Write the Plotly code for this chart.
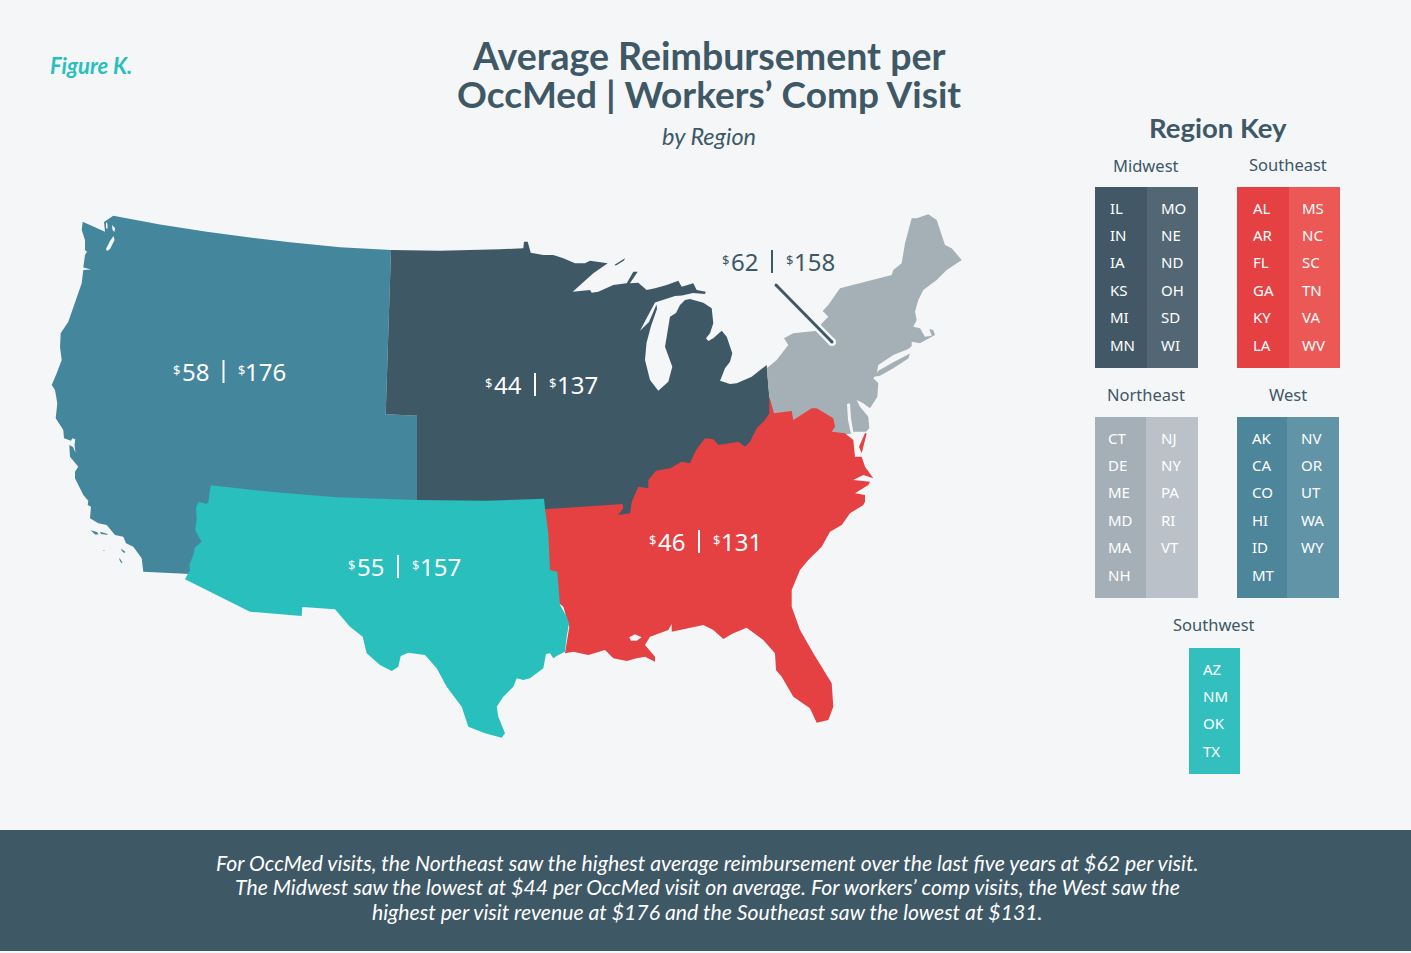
import plotly.graph_objects as go

# ---------- data ----------
regions = ["West", "Midwest", "Northeast", "Southwest", "Southeast"]
occmed = [58, 44, 62, 55, 46]
comp = [176, 137, 158, 157, 131]
label_x = [223.5, 535, 772, 398, 699]
label_y = [371, 384, 261, 566, 541]
label_colors = ["#FFFFFF", "#FFFFFF", "#3E5866", "#FFFFFF", "#FFFFFF"]

west_x = [82.7,93,105,104,109,113.3,160,206.7,250,290,340,391,385.7,418.3,417,417,215,190,143.3,141.7,133.3,126,123.3,115,106.7,98.3,90,91,87.7,88.3,83.3,75,75,78.3,70,69.3,73,75.5,74.5,75.3,72.3,71,64,63.3,55.7,57.3,55,51.7,56.7,61.7,60,60.7,68.3,73.3,81.7,83.3,91,83.3,85,87,85,85,81.7,82.7,None,90.7,97,98.5,95,90.7,None,100,108,107,101,100,None,103.3,105,103.5,103.3,None,121,125.5,124,122,121,None,119.3,122.7,121,119.5,119.3]
west_y = [221.7,226,231.7,222,219,215.7,224.5,231.7,237.5,242.3,247.3,250,414.3,415.7,500,520,520,574,571.7,558.3,546.7,543.3,536.7,535,525,523.3,518.3,506.7,505,500.7,495,478.3,471.7,466.7,456.7,445,447,452.7,445,439.3,438.3,440.7,438.3,430,418.3,403.3,390,385,373.3,360,346.7,333.3,321.7,306.7,283.3,270,269.5,267.5,255,251.7,250,240,230,221.7,None,530.3,532,534.5,534.5,530.3,None,531.7,534,534.7,534,531.7,None,550,551,551,550,None,548.5,552,553,551,548.5,None,557.7,562.7,562.7,560,557.7]

midwest_x = [391,440,500,523.3,524,527.7,530.7,543.3,553.3,563.3,575,585,590,607.7,593.3,572.7,590,591.7,598.3,613.3,626.7,633.3,637.7,630,638.3,646.7,655,666.7,678.3,681.7,693.3,696.7,705.7,705,693,682,675,663,655,648.3,640,649,654,656.5,657,651,646.5,645,650,658.3,668.3,672.3,665,668.3,670,676,680,685,690,703.3,711.7,713.3,710,706,708.3,713.3,721.7,726.7,732.3,730,725,721.7,720,730,736.7,751.7,766.7,769.3,774,800,640,540,417,417,418.3,385.7,391,None,614.3,625,624,616,614.3]
midwest_y = [250,250.7,249.3,248.3,241.7,241.7,252.7,255,255,258.3,263.3,263.3,260.7,263.3,273.3,291.7,290,292.7,291.7,285,283.3,271.7,271.7,283.3,282.7,290,288.3,285,280.7,286.7,283.3,290,291.7,294,293,295.5,296,299.5,302.5,315,330.7,322,309,304.5,309,326,343,360,380,390.7,381.7,366.7,346.7,328.3,316.7,313,305,300,299,302.7,308.3,323.3,333.3,338.3,341,338.3,330.7,336.7,353.3,361.7,368.3,376.7,380.7,384,383.3,376.7,365,396.7,413,450,530,530,520,415.7,415.7,414.3,250,None,265,258.3,260.5,265.5,265]

northeast_x = [766.7,776.7,788.3,784,793.3,810,815,823.3,828.3,822.7,828.3,840,891.7,893.3,901.7,905,911.7,916.7,928.3,936.7,945,951.7,961.7,946.7,936.7,923.3,918.3,915,916.7,913.3,920,925,931.7,929.3,933.3,935,926.7,920,911.7,911.7,908.3,893.3,878.3,876.7,873.3,878.3,877.3,870,863.3,856.7,860,868.3,869.3,866,853.3,851,850,847,848,851,845,835,775,769.3,766.7,None,874,878.3,893.3,908.3,910,908.3,893.3,880,874]
northeast_y = [368.3,360,345,338.3,333.3,331,331,321.7,316.7,311,305,288.3,275,270,263.3,243.3,218.3,218.3,214.3,220,245,248.3,260,270,280,290,300,311.7,320,326.7,328.3,336.7,335.7,329,330,335,340,343.3,341.7,346,349,355,365,373.3,378.3,383.3,396.7,408.3,403.3,400,406.7,416.7,428.3,431.7,431.7,418.3,403.3,404,420,434,434,440,420,396.7,368.3,None,376.7,370.7,362.3,354,353.5,358.5,368.3,375.7,376.7]

southeast_x = [544,622.7,623.3,618.3,630,631.7,638.3,648.3,648.3,656,670,681.7,690,696,705,713.3,718.3,730,738.3,745,750,756.7,765,769.3,769.3,774,791.7,793.3,811.7,816.7,833.3,835,831.7,845,853.3,855,861.7,865,873.3,863.3,853.3,870,868.3,855,865,865,863.3,850,841.7,830,821.7,808.3,800,791.7,791.7,800,813.3,831.7,833.3,828.3,816.7,810,793.3,781.7,776,775,763.3,746.7,733.3,723.3,713.3,703.3,686.7,671.7,671.7,668.3,650,645,655,655,645,636.7,626.7,613.3,605,598.3,588.3,573.3,565,569.3,563.3,555,540,544,None,865,866.7,861.7,859,865]
southeast_y = [509.3,504,508.3,515,513.3,501.7,486.7,488.3,480,470.7,468.3,461.7,463.3,450,438.3,439.3,445,443.3,441.7,446.7,441.7,428.3,420,413.3,396.7,413.3,411,420,408.3,408.3,418.3,426.7,431.7,433.3,440,456.7,456.7,466.7,478.3,475,480,481.7,485,493.3,495,501.7,505,513.3,525,531.7,546.7,560,570,590,606.7,630,653.3,683.3,706.7,720,722.7,708.3,696.7,676.7,670,653.3,640,627.7,633.3,639,630,625,628.3,631.7,624,630,636.7,645,656.7,661.7,656.7,658.3,661,658.3,650,651.7,655,651.7,653.3,626.7,606.7,600,520,509.3,None,433.3,433.3,453.3,446.7,433.3]

southwest_x = [210.7,270,336.7,417,486.7,544,545,548.3,550,557.3,560,566.7,569,566.7,565,558.3,553.3,550,546,545,543.3,530,523.3,516.7,513.3,503.3,496.7,498.3,505,501.7,485,468.3,461.7,446.7,436.7,425,408.3,400.7,398.3,391.7,380,366.7,362.7,350,335,302.3,301.7,250,185,190,189.3,193.3,195,201.7,195,196.7,196,198.3,203.3,205.7,208.3,210.7]
southwest_y = [485.3,491.7,497.3,500,500.7,498.7,508.3,533.3,570,571.7,605,616.7,623.3,636.7,651.7,655,658.3,653.3,654,660,668.3,678.3,680,678.3,686.7,696.7,706.7,716.7,733.3,737.7,733.3,726.7,706.7,686.7,668.3,655,652.7,656,666.7,671,665,653.3,636.7,626.7,609.3,607,616,611.7,579.3,570,565,555,547.3,541.7,530,520,507.3,502.3,502.7,504.3,502.3,485.3]

water_x = [629.3,635,641.7,636.7,631,629.3,None,106,107.5,107.5,106,106,None,112,115,114.5,112.5,112,None,106,110,113.5,114.5,110,107,106,None,77,86,85,77]
water_y = [637.3,634.3,637.3,640.7,640.7,637.3,None,222,224,229,228,222,None,225,228,232,230,225,None,249,241,236,240,249,251,249,None,440,442,442.5,440]

leader_x = [776, 832]
leader_y = [285, 342]

key_titles = ["Midwest", "Southeast", "Northeast", "West", "Southwest"]
key_states = [
    [["IL","IN","IA","KS","MI","MN"], ["MO","NE","ND","OH","SD","WI"]],
    [["AL","AR","FL","GA","KY","LA"], ["MS","NC","SC","TN","VA","WV"]],
    [["CT","DE","ME","MD","MA","NH"], ["NJ","NY","PA","RI","VT"]],
    [["AK","CA","CO","HI","ID","MT"], ["NV","OR","UT","WA","WY"]],
    [["AZ","NM","OK","TX"]],
]
key_title_x = [1146, 1288, 1146, 1288, 1214]
key_title_y = [165, 164, 394, 394, 624]
key_edges = [[1095,1147,1198],[1237,1289,1340],[1095,1146,1198],[1237,1287,1339],[1189,1240]]
key_top = [187, 187, 417, 417, 648]
key_bottom = [368, 368, 598, 598, 774]
key_text_x = [[1109,1160],[1252,1301],[1107,1160],[1251,1300],[1202]]
key_colors = [["#435866","#536674"],["#E54042","#EC5856"],["#A5AFB8","#BBC1C8"],["#4D869B","#6294A8"],["#33BFBE"]]

footer_lines = [
    "For OccMed visits, the Northeast saw the highest average reimbursement over the last five years at $62 per visit.",
    "The Midwest saw the lowest at $44 per OccMed visit on average. For workers’ comp visits, the West saw the",
    "highest per visit revenue at $176 and the Southeast saw the lowest at $131.",
]
footer_y = [863, 887, 912]

# ---------- styles ----------
BG = "#F4F6F8"
DARK = "#3E5866"
TEAL = "#28BFBD"
LATO = "Lato"
SANS = "Noto Sans"

fig = go.Figure()

def poly(xs, ys, color):
    fig.add_trace(go.Scatter(x=xs, y=ys, mode="lines", fill="toself", fillcolor=color,
                             line=dict(width=0, color=color), hoverinfo="skip"))

poly(west_x, west_y, "#44869C")
poly(midwest_x, midwest_y, DARK)
poly(northeast_x, northeast_y, "#A5B0B6")
poly(southeast_x, southeast_y, "#E54042")
poly(southwest_x, southwest_y, TEAL)
poly(water_x, water_y, BG)

# leader with a pale casing
fig.add_trace(go.Scatter(x=leader_x, y=leader_y, mode="lines+markers",
                         line=dict(color=BG, width=8),
                         marker=dict(size=8, color=BG), hoverinfo="skip"))
fig.add_trace(go.Scatter(x=leader_x, y=leader_y, mode="lines+markers",
                         line=dict(color=DARK, width=3),
                         marker=dict(size=3, color=DARK), hoverinfo="skip"))

ann = []
def text(x, y, s, size, color, family=SANS, anchor="center", weight=None, style=None):
    f = dict(size=size, color=color, family=family)
    if weight: f["weight"] = weight
    if style: f["style"] = style
    ann.append(dict(x=x, y=y, xref="x", yref="y", text=s, showarrow=False, xanchor=anchor,
                    yanchor="middle", font=f, borderpad=0, align="center"))

text(49, 65, "Figure K.", 22, TEAL, LATO, "left", 700, "italic")
text(708.5, 55.5, "Average Reimbursement per", 37.5, DARK, LATO, "center", 700)
text(708.5, 93.5, "OccMed | Workers’ Comp Visit", 37, DARK, LATO, "center", 700)
text(708.5, 136, "by Region", 23.5, DARK, LATO, "center", None, "italic")
text(1218, 127, "Region Key", 27.5, DARK, LATO, "center", 700)

shapes = [dict(type="rect", x0=0, x1=1411, y0=830, y1=951, xref="x", yref="y",
               fillcolor=DARK, line=dict(width=0), layer="below")]
for i, r in enumerate(regions):
    bx, by, c = label_x[i], label_y[i], label_colors[i]
    text(bx - 51.5, by - 1, "$", 13, c, SANS, "left")
    text(bx - 42.5, by, str(occmed[i]), 24, c, SANS, "left")
    text(bx + 13, by - 1, "$", 13, c, SANS, "left")
    text(bx + 20.5, by, str(comp[i]), 24, c, SANS, "left")
    shapes.append(dict(type="line", x0=bx, x1=bx, y0=by - 11, y1=by + 12, xref="x", yref="y",
                       line=dict(color=c, width=2)))

for i, t in enumerate(key_titles):
    text(key_title_x[i], key_title_y[i], t, 16.5, DARK, SANS)
    edges = key_edges[i]
    for j, col in enumerate(key_states[i]):
        shapes.append(dict(type="rect", x0=edges[j], x1=edges[j + 1], y0=key_top[i], y1=key_bottom[i],
                           xref="x", yref="y", fillcolor=key_colors[i][j], line=dict(width=0), layer="below"))
        for k, st in enumerate(col):
            text(key_text_x[i][j], key_top[i] + 20.5 + 27.4 * k, st, 15, "#FFFFFF", SANS, "left")

for line, y in zip(footer_lines, footer_y):
    text(707, y, line, 21.2, "#FFFFFF", LATO, "center", None, "italic")

fig.update_layout(
    width=1411, height=953, margin=dict(l=0, r=0, t=0, b=0), autosize=False,
    paper_bgcolor=BG, plot_bgcolor=BG, showlegend=False,
    xaxis=dict(range=[0, 1411], visible=False, fixedrange=True),
    yaxis=dict(range=[953, 0], visible=False, fixedrange=True),
    annotations=ann, shapes=shapes, hovermode=False,
)
fig.write_html("out.html", config={"displayModeBar": False},
               post_script="document.body.style.margin='0';document.body.style.background='#F4F6F8';")
